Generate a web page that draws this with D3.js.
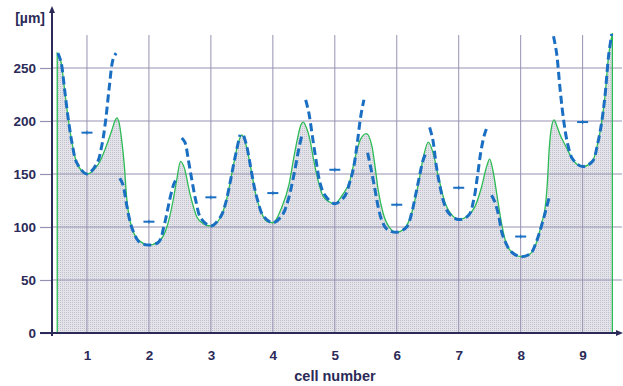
<!DOCTYPE html>
<html><head><meta charset="utf-8">
<script src="https://cdn.jsdelivr.net/npm/d3@7"></script>
<style>
html,body{margin:0;padding:0;background:#fff;}
svg{display:block;font-family:"Liberation Sans",Arial,sans-serif;}
</style></head>
<body>
<svg id="chart" width="623" height="386"></svg>
<script>
// ---- data ----
const cells = [1, 2, 3, 4, 5, 6, 7, 8, 9];
const yTicks = [0, 50, 100, 150, 200, 250];
const yUnit = "[µm]";
const xTitle = "cell number";
// mean markers per cell
const cellMeans = [189, 105, 128, 132, 154, 121, 137, 91, 199];
// offsets (cell units) at which the per-cell dashed fits were read
const blueOffsets = [-0.47, -0.42, -0.36, -0.30, -0.24, -0.16, 0, 0.16, 0.24, 0.30, 0.36, 0.42, 0.47];
const blueFits = [
  [264, 256, 229, 201, 179, 160, 150, 160, 177, 200, 232, 258, 264],
  [146, 140, 121, 104, 94, 86, 83, 86, 100, 116, 132, 143, 146],
  [184, 180, 162, 142, 124, 108, 101, 110, 123, 139, 157, 174, 187],
  [186, 176, 157, 138, 124, 111, 104, 112, 124, 138, 155, 174, 187],
  [220, 208, 185, 162, 142, 130, 122, 129, 142, 155, 178, 205, 220],
  [170, 156, 138, 119, 106, 98, 95, 100, 113, 129, 146, 162, 170],
  [194, 183, 157, 138, 123, 113, 107, 111, 125, 147, 172, 188, 196],
  [130, 124, 112, 94, 85, 77, 72, 75, 84, 94, 106, 119, 130],
  [280, 264, 228, 198, 178, 164, 157, 162, 178, 196, 223, 262, 282]
];
// measured profile (green)
const profileX = [0.52, 0.58, 0.64, 0.70, 0.76, 0.84, 1.0, 1.13, 1.21, 1.29, 1.40, 1.45, 1.48, 1.52, 1.56, 1.60, 1.64, 1.72, 1.83, 2.0,
  2.15, 2.29, 2.39, 2.45, 2.51, 2.57, 2.66, 2.77, 2.88, 3.0, 3.145, 3.25, 3.36, 3.44, 3.50, 3.56, 3.64, 3.72, 3.80, 3.91, 4.0,
  4.14, 4.26, 4.34, 4.40, 4.45, 4.49, 4.54, 4.60, 4.65, 4.73, 4.81, 4.90, 5.0, 5.12, 5.245, 5.33, 5.41, 5.51, 5.60, 5.65, 5.70, 5.78, 5.89, 6.0,
  6.13, 6.24, 6.35, 6.43, 6.51, 6.59, 6.67, 6.78, 6.91, 7.0, 7.13, 7.26, 7.37, 7.45, 7.50, 7.55, 7.62, 7.69, 7.79, 8.0,
  8.16, 8.27, 8.34, 8.39, 8.43, 8.46, 8.50, 8.54, 8.58, 8.63, 8.73, 8.86, 9.0, 9.16, 9.24, 9.30, 9.36, 9.42, 9.48];
const profileY = [264, 256, 229, 201, 179, 160, 150, 155, 162, 173, 191, 200, 203, 198, 182, 160, 128, 100, 88, 83,
  86, 100, 125, 145, 162, 156, 132, 110, 103, 101, 108, 125, 157, 179, 187, 179, 157, 132, 116, 105, 104,
  118, 140, 166, 184, 196, 199, 194, 182, 166, 144, 129, 124, 122, 130, 144, 166, 182, 188, 176, 157, 135, 113, 99, 95,
  99, 113, 141, 166, 180, 169, 148, 123, 110, 107, 110, 119, 138, 157, 164, 154, 129, 104, 81, 72,
  75, 88, 104, 116, 141, 173, 195, 201, 196, 188, 176, 162, 157, 162, 178, 196, 223, 262, 283];

// ---- layout ----
const svg = d3.select("#chart");
const ink = "#2b2a58";
const gridCol = "#9792b2";
const x = d3.scaleLinear().domain([0.5, 9.5]).range([56, 613.6]);
const y = d3.scaleLinear().domain([0, 250]).range([333, 68]);

const defs = svg.append("defs");
const pat = defs.append("pattern").attr("id", "dots").attr("width", 2).attr("height", 2)
  .attr("patternUnits", "userSpaceOnUse");
pat.append("rect").attr("width", 2).attr("height", 2).attr("fill", "#e3e3e9");
pat.append("rect").attr("width", 1).attr("height", 1).attr("fill", "#c2c2cc");

const profile = profileX.map((v, i) => ({x: v, y: profileY[i]}));
const profArea = d3.area().x(d => x(d.x)).y0(y(0)).y1(d => y(d.y)).curve(d3.curveMonotoneX);

// filled area
svg.append("path").datum(profile).attr("fill", "url(#dots)").attr("d", profArea);

// grid
svg.append("g").selectAll("line").data(yTicks.filter(t => t > 0)).join("line")
  .attr("x1", 52).attr("x2", 622).attr("y1", d => y(d)).attr("y2", d => y(d))
  .attr("stroke", gridCol).attr("stroke-width", 1);
svg.append("g").selectAll("line").data(cells).join("line")
  .attr("x1", d => x(d)).attr("x2", d => x(d)).attr("y1", 35).attr("y2", y(0))
  .attr("stroke", gridCol).attr("stroke-width", 1);

// green profile outline (area stroke, baseline hidden by axis)
svg.append("path").datum(profile)
  .attr("fill", "none").attr("stroke", "#2dbb56").attr("stroke-width", 1.3)
  .attr("d", profArea);

// blue dashed per-cell fits
const blueLine = d3.line().x(d => x(d.x)).y(d => y(d.y)).curve(d3.curveCatmullRom.alpha(0.5));
svg.append("g").selectAll("path").data(blueFits).join("path")
  .attr("fill", "none").attr("stroke", "#1a6fc2").attr("stroke-width", 3)
  .attr("stroke-dasharray", "8,4")
  .attr("d", (vals, i) => blueLine(vals.map((v, k) => ({x: cells[i] + blueOffsets[k], y: v}))));

// mean markers
const mg = svg.append("g").attr("stroke", "#1a6fc2").attr("stroke-width", 2);
mg.selectAll("line.h").data(cellMeans).join("line").attr("class", "h")
  .attr("x1", (d, i) => x(cells[i]) - 5.5).attr("x2", (d, i) => x(cells[i]) + 5.5)
  .attr("y1", d => y(d)).attr("y2", d => y(d));
mg.selectAll("line.v").data(cellMeans).join("line").attr("class", "v").attr("stroke-width", 1)
  .attr("x1", (d, i) => x(cells[i])).attr("x2", (d, i) => x(cells[i]))
  .attr("y1", d => y(d) - 2).attr("y2", d => y(d) + 2);

// y axis ticks + labels
const yAxis = d3.axisLeft(y).tickValues(yTicks).tickSize(12).tickPadding(4);
const gy = svg.append("g").attr("transform", "translate(52,0)").call(yAxis);
gy.select(".domain").remove();
gy.selectAll(".tick line").attr("stroke", gridCol).attr("stroke-width", 1.2);
gy.selectAll(".tick text").attr("fill", ink).attr("font-size", 13.5).attr("font-weight", "bold")
  .attr("font-family", "Liberation Sans, Arial, sans-serif");

// x axis labels
const xAxis = d3.axisBottom(x).tickValues(cells).tickSize(0).tickPadding(17).tickFormat(d3.format("d"));
const gx = svg.append("g").attr("transform", `translate(0,${y(0)})`).call(xAxis);
gx.select(".domain").remove();
gx.selectAll(".tick text").attr("fill", ink).attr("font-size", 13.5).attr("font-weight", "bold")
  .attr("font-family", "Liberation Sans, Arial, sans-serif");

// axis lines with arrows
svg.append("line").attr("x1", 40).attr("x2", 618).attr("y1", y(0)).attr("y2", y(0))
  .attr("stroke", ink).attr("stroke-width", 2);
svg.append("path").attr("d", `M623,${y(0)} L616,${y(0) - 3} L616,${y(0) + 3} Z`).attr("fill", ink);
svg.append("line").attr("x1", 52).attr("x2", 52).attr("y1", 336).attr("y2", 12)
  .attr("stroke", ink).attr("stroke-width", 2);
svg.append("path").attr("d", "M52,6 L49,13 L55,13 Z").attr("fill", ink);

// titles
svg.append("text").attr("x", 45).attr("y", 23).attr("text-anchor", "end")
  .attr("fill", ink).attr("font-size", 14).attr("font-weight", "bold").text(yUnit);
svg.append("text").attr("x", 335).attr("y", 381).attr("text-anchor", "middle")
  .attr("fill", ink).attr("font-size", 14.5).attr("font-weight", "bold").text(xTitle);
</script>
</body></html>
